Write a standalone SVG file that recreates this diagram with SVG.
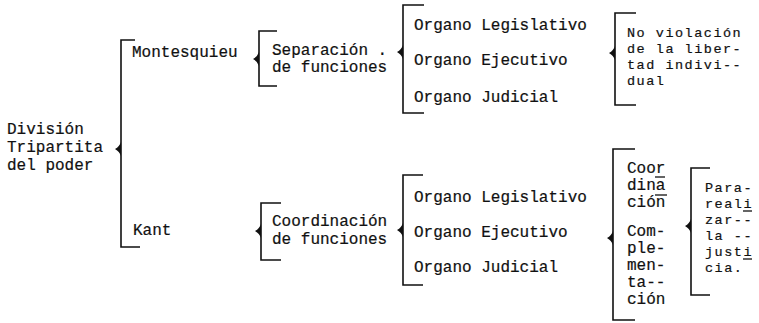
<svg xmlns="http://www.w3.org/2000/svg" xmlns:xlink="http://www.w3.org/1999/xlink" width="759" height="323" viewBox="0 0 759 323">
<style>
text{font-family:"Liberation Mono","Courier New",monospace;font-size:16px;fill:#111;stroke:#111;stroke-width:0.2}
text.t{font-size:13.5px;letter-spacing:1.5px}
.br{fill:none;stroke:#111;stroke-width:1.6}
.ul{stroke:#111;stroke-width:1.3}
</style>
<defs>
<path id="tip" d="M0,-7 Q-1.5,-2.5 -6,0 Q-1.5,2.5 0,7 Z" fill="#111"/>
</defs>
<rect width="759" height="323" fill="#fff"/>
<g id="connectors">
<path class="br" d="M135,40 H121 V247 H140"/><use xlink:href="#tip" x="121" y="149"/>
<path class="br" d="M277,31 H259 V86 H277"/><use xlink:href="#tip" x="259" y="59"/>
<path class="br" d="M424,5 H403 V113 H424"/><use xlink:href="#tip" x="403" y="52"/>
<path class="br" d="M636,13 H615 V105 H636"/><use xlink:href="#tip" x="615" y="53"/>
<path class="br" d="M281,203 H261 V260 H281"/><use xlink:href="#tip" x="261" y="231"/>
<path class="br" d="M423,175 H403 V285 H423"/><use xlink:href="#tip" x="403" y="230"/>
<path class="br" d="M635,149 H613 V320 H635"/><use xlink:href="#tip" x="613" y="238"/>
<path class="br" d="M710,168 H691 V295 H710"/><use xlink:href="#tip" x="691" y="226"/>
</g>
<g id="division"><text x="7" y="134">División</text><text x="7" y="152">Tripartita</text><text x="7" y="170">del poder</text></g>
<g id="montesquieu"><text x="132" y="57">Montesquieu</text></g>
<g id="kant"><text x="133" y="235">Kant</text></g>
<g id="separacion"><text x="272" y="55">Separación .</text><text x="272" y="72">de funciones</text></g>
<g id="coordinacion-funciones"><text x="272" y="226">Coordinación</text><text x="272" y="244">de funciones</text></g>
<g id="organos-1"><text x="414" y="30">Organo Legislativo</text><text x="414" y="65">Organo Ejecutivo</text><text x="414" y="102">Organo Judicial</text></g>
<g id="organos-2"><text x="414" y="202">Organo Legislativo</text><text x="414" y="237">Organo Ejecutivo</text><text x="414" y="272">Organo Judicial</text></g>
<g id="no-violacion"><text class="t" x="627" y="37">No violación</text><text class="t" x="627" y="53">de la liber-</text><text class="t" x="627" y="69">tad indivi--</text><text class="t" x="627" y="85">dual</text></g>
<g id="coordinacion-complementacion"><text x="627" y="173">Coor</text><text x="627" y="190">dina</text><text x="627" y="207">ción</text><text x="627" y="236">Com-</text><text x="627" y="253">ple-</text><text x="627" y="270">men-</text><text x="627" y="287">ta--</text><text x="627" y="304">ción</text>
<line class="ul" x1="655" y1="177" x2="665" y2="177"/><line class="ul" x1="655" y1="195" x2="667" y2="195"/></g>
<g id="para-realizar"><text class="t" x="705" y="192">Para-</text><text class="t" x="705" y="208">reali</text><text class="t" x="705" y="224">zar--</text><text class="t" x="705" y="240">la --</text><text class="t" x="705" y="256">justi</text><text class="t" x="705" y="272">cia.</text>
<line class="ul" x1="743" y1="211" x2="752" y2="211"/><line class="ul" x1="743" y1="259" x2="752" y2="259"/></g>
</svg>
